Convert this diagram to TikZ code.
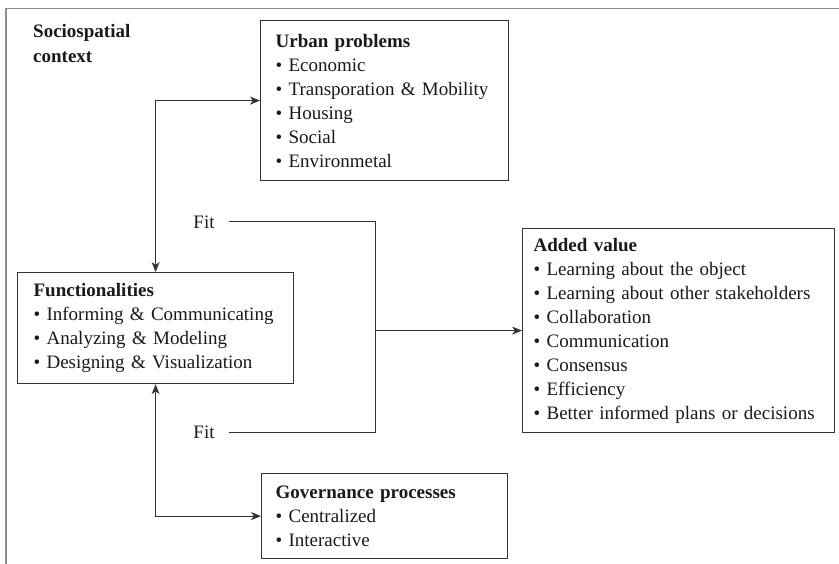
\documentclass[tikz,border=0pt]{standalone}
\usepackage{fontspec}
\setmainfont{Liberation Serif}
\usetikzlibrary{arrows.meta}
\begin{document}
\begin{tikzpicture}[x=1pt,y=-1pt,
  box/.style={draw=black!80, line width=1.2pt, anchor=north west, align=left,
    inner ysep=0pt, font=\fontsize{19}{24}\selectfont, text=black!90},
  conn/.style={line width=1pt, draw=black!80},
  tip/.tip={Stealth[length=10pt,width=8pt,inset=3pt]},
  fitlbl/.style={inner xsep=14pt, inner ysep=0pt, font=\fontsize{19}{24}\selectfont, text=black!90}]
\useasboundingbox (0,0) rectangle (839,564);
% outer frame (cropped)
\draw[black!45, line width=1.3pt] (839,8.5) -- (6,8.5) -- (6,564);
\node[anchor=north west, inner sep=0pt, align=left, text=black!90,
  font=\bfseries\fontsize{19}{25}\selectfont] (ctx) at (33,24) {Sociospatial\\context};
% boxes
\node[box, inner xsep=15pt, text width=218pt, minimum height=160pt] (urban) at (260,20)
  {\textbf{Urban problems}\\
   \textbullet\ Economic\\
   \textbullet\ Transporation \& Mobility\\
   \textbullet\ Housing\\
   \textbullet\ Social\\
   \textbullet\ Environmetal};
\node[box, inner xsep=16pt, text width=244pt, minimum height=111pt] (func) at (17,272)
  {\textbf{Functionalities}\\
   \textbullet\ Informing \& Communicating\\
   \textbullet\ Analyzing \& Modeling\\
   \textbullet\ Designing \& Visualization};
\node[box, inner xsep=11pt, text width=290pt, minimum height=204pt] (added) at (522,228)
  {\textbf{Added value}\\
   \textbullet\ Learning about the object\\
   \textbullet\ Learning about other stakeholders\\
   \textbullet\ Collaboration\\
   \textbullet\ Communication\\
   \textbullet\ Consensus\\
   \textbullet\ Efficiency\\
   \textbullet\ Better informed plans or decisions};
\node[box, inner xsep=14pt, text width=218pt, minimum height=85pt] (gov) at (261,473)
  {\textbf{Governance processes}\\
   \textbullet\ Centralized\\
   \textbullet\ Interactive};
% connectors
\draw[conn, tip-tip] (func.north) |- (urban.west);
\draw[conn, tip-tip] (func.south) |- (gov.west);
\node[fitlbl] (fit1) at (204,222) {Fit};
\node[fitlbl] (fit2) at (204,432) {Fit};
\coordinate (jt) at (375,222);
\coordinate (jb) at (375,432);
\draw[conn] (fit1.east) -- (jt) -- (jb) -- (fit2.east);
\draw[conn, -tip] (jt |- added.west) -- (added.west);
\end{tikzpicture}
\end{document}
